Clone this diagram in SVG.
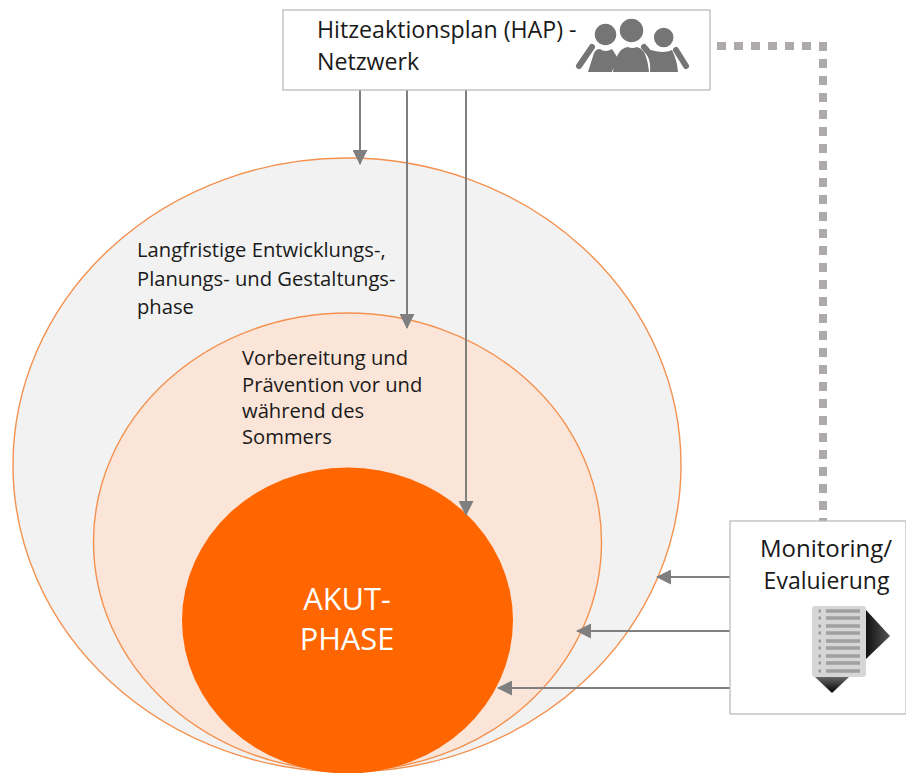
<svg xmlns="http://www.w3.org/2000/svg" width="906" height="773" viewBox="0 0 906 773">
<style>
text{font-family:"Open Sans","Noto Sans",sans-serif;fill:#1a1a1a}
.t{font-size:20.200px}
.h{font-size:23.200px}
.m{font-size:24px}
.w{font-size:30.800px;fill:#fff}
.box{fill:#fff;stroke:#bcbcbc;stroke-width:1.3}
.c{stroke:#7f7f7f;stroke-width:2;fill:none;marker-end:url(#a)}
.g{fill:#757575}
.hd{fill:#757575;stroke:#fff;stroke-width:1.500}
.l{stroke:#757575;stroke-width:6;stroke-linecap:round;fill:none}
</style>
<defs>
<marker id="a" markerUnits="userSpaceOnUse" markerWidth="15" markerHeight="15" refX="14" refY="7.500" orient="auto"><path d="M0 0L15 7.500L0 15Z" fill="#7f7f7f"/></marker>
<linearGradient id="d1" x1="0" y1="0" x2="0" y2="1"><stop offset="0" stop-color="#666"/><stop offset="1" stop-color="#000"/></linearGradient>
<linearGradient id="d2" x1="0" y1="0" x2="1" y2="0"><stop offset="0" stop-color="#111"/><stop offset="1" stop-color="#555"/></linearGradient>
</defs>
<g id="phase-long"><ellipse cx="347" cy="465" rx="334" ry="307" fill="#f2f2f2" stroke="#f4914f" stroke-width="1.4"/>
<text class="t" x="137" y="256.500">Langfristige Entwicklungs-,</text><text class="t" x="137" y="285.500">Planungs- und Gestaltungs-</text><text class="t" x="137" y="313.500">phase</text></g>
<g id="phase-prep"><ellipse cx="347.500" cy="542" rx="254" ry="229" fill="#fbe5d8" stroke="#f4914f" stroke-width="1.4"/>
<text class="t" x="242" y="364.500">Vorbereitung und</text><text class="t" x="242" y="391.500">Prävention vor und</text><text class="t" x="242" y="417.500">während des</text><text class="t" x="242" y="443.500">Sommers</text></g>
<g id="phase-acute"><ellipse cx="347.500" cy="620.500" rx="165.500" ry="153" fill="#ff6600"/>
<text class="w" x="347" y="610" text-anchor="middle">AKUT-</text><text class="w" x="347" y="650" text-anchor="middle">PHASE</text></g>
<g id="connectors">
<path class="c" d="M360 90V164"/><path class="c" d="M407 90V328"/><path class="c" d="M466 90V515"/>
<path class="c" d="M730 577H657"/><path class="c" d="M730 631H577"/><path class="c" d="M730 688H498"/>
<path d="M717 46H823V521" fill="none" stroke="#aeaaaa" stroke-width="8" stroke-dasharray="9 8"/>
</g>
<g id="hap-network"><rect class="box" x="283" y="10" width="427" height="80"/>
<text class="h" x="317" y="38">Hitzeaktionsplan (HAP) -</text><text class="h" x="317" y="70">Netzwerk</text>
<path class="l" d="M592 47L579 66M644 47L650 54M676 50L686 66"/>
<path class="g" d="M588 72L594 53Q596 49 600 49Q605 53 612 49Q616 55 620 62Q613 67 612 72Z"/>
<path class="g" d="M613 72Q614 58 621 50Q625 47 628 47Q632 49 637 47Q641 48 644 52Q648 60 649 72Z"/>
<path class="g" d="M650 72Q651 62 647 55L651 50Q664 54 672 50Q677 60 678 72Z"/>
<circle class="hd" cx="605.500" cy="34.500" r="11.500"/><circle class="hd" cx="631.500" cy="30.500" r="12.500"/><circle class="hd" cx="663.700" cy="37.500" r="10.500"/></g>
<g id="monitoring"><rect class="box" x="730" y="521" width="176" height="193"/>
<text class="m" x="826" y="557" text-anchor="middle">Monitoring/</text><text class="m" x="826.500" y="589" text-anchor="middle" style="font-size:23px">Evaluierung</text>
<path d="M866 610L890 636L866 659Z" fill="url(#d2)"/><path d="M815 677H849L832 693Z" fill="url(#d1)"/>
<rect x="812" y="606" width="54" height="71" rx="3" fill="#d6d6d6"/>
<path d="M826 611H860M826 618H860M826 626H860M826 633H860M826 641H860M826 648H860M826 656H860M826 663H860M826 671H860" stroke="#a0a0a0" stroke-width="3.500"/>
<path d="M818.500 611h2.500M818.500 618h2.500M818.500 626h2.500M818.500 633h2.500M818.500 641h2.500M818.500 648h2.500M818.500 656h2.500M818.500 663h2.500M818.500 671h2.500" stroke="#999" stroke-width="3"/></g>
</svg>
